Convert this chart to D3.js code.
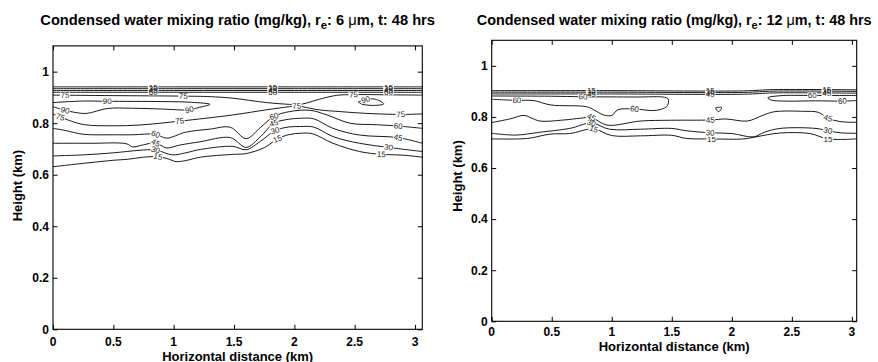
<!DOCTYPE html>
<html><head><meta charset="utf-8">
<script src="https://cdn.jsdelivr.net/npm/d3@7"></script>
<style>
body{margin:0;background:#fff}
svg{display:block}
text{font-family:"Liberation Sans",Arial,Helvetica,sans-serif}
</style>
</head><body>
<svg id="c" width="878" height="362"></svg>
<script>
// ---------- axis ticks ----------
const xTicks = [0, 0.5, 1, 1.5, 2, 2.5, 3];
const xTickLabels = ["0", "0.5", "1", "1.5", "2", "2.5", "3"];
const yTicks = [0, 0.2, 0.4, 0.6, 0.8, 1];
const yTickLabels = ["0", "0.2", "0.4", "0.6", "0.8", "1"];

// ---------- left panel: r_e = 6 um (contour polylines [x km, height km]) ----------
const L_b15 = [[0,0.941],[1,0.941],[2,0.941],[3.06,0.941]];
const L_b30 = [[0,0.934],[1,0.934],[2,0.934],[3.06,0.934]];
const L_b45 = [[0,0.927],[1,0.927],[2,0.927],[3.06,0.927]];
const L_b60 = [[0,0.920],[1,0.920],[2,0.920],[3.06,0.920]];
const L_75up = [[0,0.909],[0.5,0.907],[1.08,0.905],[1.3,0.903],[1.49,0.897],[1.77,0.880],[1.96,0.873],[2.03,0.872],[2.1,0.878],[2.2,0.892],[2.35,0.908],[2.5,0.911],[2.8,0.910],[3.06,0.909]];
const L_75lo = [[0,0.836],[0.06,0.824],[0.25,0.795],[0.5,0.790],[0.72,0.793],[1.05,0.808],[1.49,0.832],[1.77,0.852],[1.96,0.864],[2.03,0.867],[2.1,0.861],[2.2,0.852],[2.38,0.845],[2.6,0.838],[2.88,0.834],[3.06,0.836]];
const L_90a = [[0,0.880],[0.25,0.886],[0.45,0.885],[0.9,0.884],[1.15,0.881],[1.3,0.873],[1.2,0.860],[1.13,0.852],[0.9,0.855],[0.66,0.858],[0.45,0.857],[0.28,0.838],[0.18,0.842],[0.1,0.850],[0,0.864]];
const L_90b = [[2.53,0.882],[2.6,0.893],[2.68,0.892],[2.74,0.875],[2.65,0.869],[2.56,0.874],[2.53,0.882]];
const L_60 = [[0,0.780],[0.1,0.772],[0.25,0.757],[0.5,0.755],[0.66,0.755],[0.85,0.757],[0.94,0.742],[1.1,0.765],[1.3,0.777],[1.47,0.784],[1.6,0.740],[1.72,0.784],[1.83,0.826],[1.96,0.845],[2.13,0.850],[2.27,0.832],[2.46,0.800],[2.68,0.794],[2.86,0.789],[3.06,0.780]];
const L_45 = [[0,0.722],[0.3,0.722],[0.61,0.720],[0.66,0.708],[0.75,0.716],[0.85,0.724],[0.94,0.704],[1.05,0.715],[1.22,0.728],[1.47,0.744],[1.6,0.706],[1.72,0.748],[1.83,0.800],[1.95,0.815],[2.05,0.819],[2.16,0.817],[2.32,0.780],[2.54,0.754],[2.86,0.744],[3.06,0.722]];
const L_30 = [[0,0.673],[0.25,0.677],[0.5,0.685],[0.61,0.690],[0.72,0.695],[0.85,0.696],[0.99,0.677],[1.1,0.685],[1.22,0.698],[1.49,0.710],[1.6,0.697],[1.72,0.730],[1.84,0.771],[1.95,0.785],[2.05,0.787],[2.16,0.785],[2.32,0.748],[2.54,0.722],[2.78,0.706],[3.06,0.690]];
const L_15 = [[0,0.631],[0.25,0.644],[0.5,0.656],[0.62,0.660],[0.75,0.668],[0.87,0.670],[0.95,0.662],[1.02,0.651],[1.1,0.655],[1.22,0.668],[1.49,0.679],[1.6,0.682],[1.75,0.705],[1.86,0.739],[1.95,0.755],[2.05,0.761],[2.15,0.759],[2.32,0.722],[2.54,0.690],[2.72,0.679],[2.9,0.676],[3.06,0.668]];

// ---------- right panel: r_e = 12 um ----------
const R_b15 = [[0,0.903],[1,0.903],[2.1,0.902],[2.35,0.907],[3.04,0.906]];
const R_b30 = [[0,0.897],[1,0.897],[2.1,0.896],[2.35,0.901],[3.04,0.900]];
const R_b45 = [[0,0.890],[1,0.890],[2.1,0.889],[2.35,0.894],[3.04,0.893]];
const R_60a = [[0,0.882],[0.5,0.881],[0.76,0.879],[1.2,0.878],[1.44,0.877],[1.47,0.870],[1.465,0.845],[1.43,0.833],[1.35,0.825],[1.19,0.831],[1.05,0.828],[1.0,0.806],[0.93,0.808],[0.85,0.828],[0.79,0.840],[0.49,0.847],[0.35,0.864],[0.21,0.865],[0,0.869]];
const R_60b = [[3.04,0.884],[2.67,0.884],[2.4,0.883],[2.3,0.875],[2.33,0.866],[2.45,0.862],[2.7,0.863],[2.92,0.862],[3.04,0.864]];
const R_60c = [[1.865,0.836],[1.915,0.837],[1.905,0.826],[1.89,0.821],[1.875,0.826],[1.865,0.836]];
const R_45 = [[0,0.778],[0.15,0.792],[0.27,0.806],[0.33,0.796],[0.4,0.784],[0.6,0.788],[0.74,0.795],[0.83,0.798],[0.96,0.768],[1.24,0.784],[1.49,0.787],[1.82,0.788],[1.95,0.792],[2.13,0.784],[2.25,0.805],[2.35,0.820],[2.6,0.822],[2.72,0.818],[2.8,0.795],[2.9,0.782],[3.04,0.779]];
const R_30 = [[0,0.736],[0.2,0.729],[0.4,0.740],[0.65,0.755],[0.83,0.776],[0.98,0.752],[1.24,0.752],[1.5,0.755],[1.62,0.746],[1.82,0.738],[2.0,0.735],[2.18,0.722],[2.27,0.740],[2.4,0.755],[2.7,0.755],[2.8,0.746],[2.9,0.738],[3.04,0.736]];
const R_15 = [[0,0.714],[0.3,0.716],[0.49,0.733],[0.65,0.735],[0.85,0.753],[1.0,0.727],[1.24,0.726],[1.5,0.728],[1.62,0.716],[1.83,0.714],[2.1,0.714],[2.2,0.722],[2.4,0.737],[2.65,0.735],[2.8,0.714],[3.04,0.714]];

// ---------- contour labels: [x position, k-th crossing] ----------
const leftLines = [
  {lev:"15", pts:L_b15, at:[[0.83,0],[1.82,0],[2.78,0]]},
  {lev:"30", pts:L_b30, at:[[0.83,0],[1.82,0],[2.78,0]]},
  {lev:"45", pts:L_b45, at:[[0.83,0],[1.82,0],[2.78,0]]},
  {lev:"60", pts:L_b60, at:[[0.83,0],[1.82,0],[2.78,0]]},
  {lev:"75", pts:L_75up, at:[[0.1,0],[1.08,0],[2.49,0]]},
  {lev:"75", pts:L_75lo, at:[[0.06,0],[1.05,0],[2.02,0],[2.88,0]]},
  {lev:"90", pts:L_90a, at:[[0.45,0],[1.13,1],[0.1,1]]},
  {lev:"90", pts:L_90b, at:[[2.59,0]]},
  {lev:"60", pts:L_60, at:[[0.85,0],[1.83,0],[2.86,0]]},
  {lev:"45", pts:L_45, at:[[0.85,0],[1.83,0],[2.86,0]]},
  {lev:"30", pts:L_30, at:[[0.85,0],[1.84,0],[2.78,0]]},
  {lev:"15", pts:L_15, at:[[0.87,0],[1.86,0],[2.72,0]]}
];
const rightLines = [
  {lev:"15", pts:R_b15, at:[[0.83,0],[1.82,0],[2.79,0]]},
  {lev:"30", pts:R_b30, at:[[0.83,0],[1.82,0],[2.79,0]]},
  {lev:"45", pts:R_b45, at:[[0.83,0],[1.82,0],[2.79,0]]},
  {lev:"60", pts:R_60a, at:[[0.76,0],[0.21,1],[1.19,1]]},
  {lev:"60", pts:R_60b, at:[[2.67,0],[2.92,1]]},
  {lev:"60", pts:R_60c, at:[]},
  {lev:"45", pts:R_45, at:[[0.83,0],[1.82,0],[2.8,0]]},
  {lev:"30", pts:R_30, at:[[0.83,0],[1.82,0],[2.8,0]]},
  {lev:"15", pts:R_15, at:[[0.85,0],[1.83,0],[2.8,0]]}
];

const panels = [
  {re:"6", lines:leftLines, x0:53, x1:422.3, y0:329.3, y1:45.9, xmax:3.06, ymax:1.1,
   titleY:25, titleW:395, xlabY:360.5, ylabX:22, ylabY:185.6, tickLabY:17},
  {re:"12", lines:rightLines, x0:491.7, x1:856.7, y0:321.3, y1:40.3, xmax:3.04, ymax:1.1,
   titleY:25, titleW:395, xlabY:350.5, ylabX:462, ylabY:176, tickLabY:15}
];

const svg = d3.select("#c");

function crossing(pts, xl, k){
  let c = 0;
  for (let i = 0; i < pts.length - 1; i++){
    const a = pts[i], b = pts[i+1];
    if ((a[0] <= xl && xl < b[0]) || (b[0] <= xl && xl < a[0])){
      if (c === k){
        const t = (xl - a[0]) / (b[0] - a[0]);
        return {y: a[1] + t*(b[1]-a[1]), a, b};
      }
      c++;
    }
  }
  return null;
}

panels.forEach(p => {
  const sx = d3.scaleLinear().domain([0, p.xmax]).range([p.x0, p.x1]);
  const sy = d3.scaleLinear().domain([0, p.ymax]).range([p.y0, p.y1]);
  const g = svg.append("g");

  // contour lines
  const line = d3.line().x(d => sx(d[0])).y(d => sy(d[1])).curve(d3.curveCatmullRom.alpha(0.5));
  g.append("g").selectAll("path").data(p.lines).join("path")
    .attr("d", d => line(d.pts))
    .attr("fill", "none").attr("stroke", "#000").attr("stroke-width", 0.9);

  // labels
  const labs = [];
  p.lines.forEach(l => l.at.forEach(([xl, k]) => {
    const c = crossing(l.pts, xl, k);
    if (!c) return;
    let ang = Math.atan2(sy(c.b[1]) - sy(c.a[1]), sx(c.b[0]) - sx(c.a[0])) * 180 / Math.PI;
    if (ang > 90) ang -= 180;
    if (ang < -90) ang += 180;
    labs.push({t:l.lev, px:sx(xl), py:sy(c.y), ang});
  }));
  const lg = g.append("g");
  lg.selectAll("rect").data(labs).join("rect")
    .attr("x", -5).attr("y", -3).attr("width", 10).attr("height", 6)
    .attr("fill", "#fff")
    .attr("transform", d => `translate(${d.px},${d.py}) rotate(${d.ang})`);
  lg.selectAll("text").data(labs).join("text")
    .attr("transform", d => `translate(${d.px},${d.py}) rotate(${d.ang})`)
    .attr("text-anchor", "middle").attr("dy", "0.33em")
    .attr("font-size", 8).attr("fill", "#222")
    .text(d => d.t);

  // axes (ticks inside, mirrored)
  const ax = g.append("g");
  ax.append("g").attr("transform", `translate(0,${p.y0})`)
    .call(d3.axisBottom(sx).tickValues(xTicks).tickSizeInner(-4.5).tickSizeOuter(0).tickFormat(()=>""));
  ax.append("g").attr("transform", `translate(0,${p.y1})`)
    .call(d3.axisTop(sx).tickValues(xTicks).tickSizeInner(-4.5).tickSizeOuter(0).tickFormat(()=>""));
  ax.append("g").attr("transform", `translate(${p.x0},0)`)
    .call(d3.axisLeft(sy).tickValues(yTicks).tickSizeInner(-4.5).tickSizeOuter(0).tickFormat(()=>""));
  ax.append("g").attr("transform", `translate(${p.x1},0)`)
    .call(d3.axisRight(sy).tickValues(yTicks).tickSizeInner(-4.5).tickSizeOuter(0).tickFormat(()=>""));
  ax.selectAll(".domain").remove();
  ax.selectAll(".tick line").attr("stroke", "#000").attr("stroke-width", 1);
  g.append("rect").attr("x", p.x0).attr("y", p.y1).attr("width", p.x1 - p.x0).attr("height", p.y0 - p.y1)
    .attr("fill", "none").attr("stroke", "#000").attr("stroke-width", 1.1);

  // tick labels
  g.append("g").selectAll("text").data(xTicks).join("text")
    .attr("x", d => sx(d)).attr("y", p.y0 + p.tickLabY)
    .attr("text-anchor", "middle").attr("font-size", 12).attr("font-weight", "bold")
    .text((d,i) => xTickLabels[i]);
  g.append("g").selectAll("text").data(yTicks).join("text")
    .attr("x", p.x0 - 4).attr("y", d => sy(d)).attr("dy", "0.36em")
    .attr("text-anchor", "end").attr("font-size", 12).attr("font-weight", "bold")
    .text((d,i) => yTickLabels[i]);

  // axis titles
  g.append("text").attr("x", (p.x0 + p.x1)/2).attr("y", p.xlabY)
    .attr("text-anchor", "middle").attr("font-size", 13).attr("font-weight", "bold")
    .text("Horizontal distance (km)");
  g.append("text").attr("transform", `translate(${p.ylabX},${p.ylabY}) rotate(-90)`)
    .attr("text-anchor", "middle").attr("font-size", 13).attr("font-weight", "bold")
    .text("Height (km)");

  // title
  const t = g.append("text").attr("x", (p.x0 + p.x1)/2).attr("y", p.titleY)
    .attr("text-anchor", "middle").attr("font-size", 13).attr("font-weight", "bold");
  t.append("tspan").text("Condensed water mixing ratio (mg/kg), r");
  t.append("tspan").attr("dy", 4).attr("font-size", 10).text("e");
  t.append("tspan").attr("dy", -4).text(": " + p.re + " ");
  t.append("tspan").attr("font-weight", "normal").text("\u03bc");
  t.append("tspan").text("m, t: 48 hrs");
  const w = t.node().getComputedTextLength();
  if (w > 0) {
    const s = p.titleW / w;
    t.attr("font-size", 13 * s);
    t.selectAll("tspan").filter((d,i)=>i===1).attr("font-size", 10 * s);
  }
});
</script>
</body></html>
